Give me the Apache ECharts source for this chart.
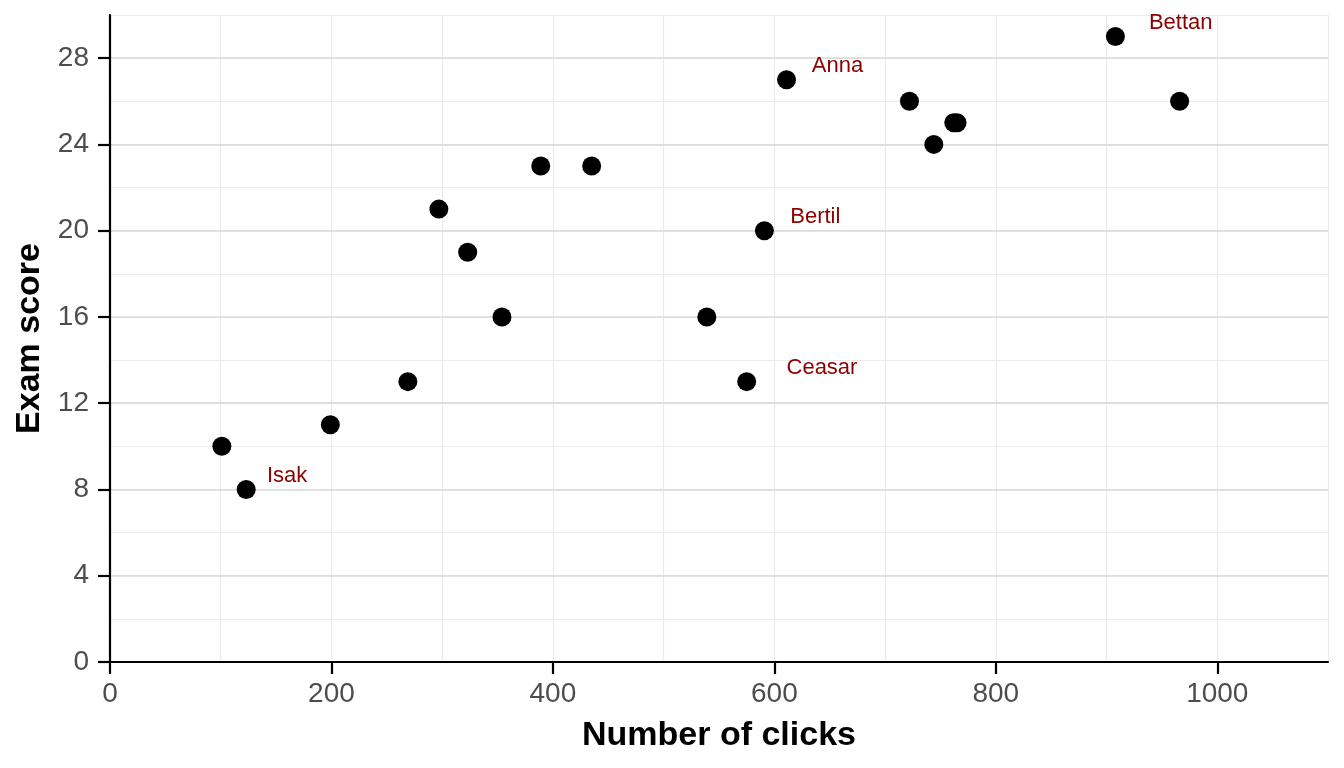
<!DOCTYPE html>
<html>
<head>
<meta charset="utf-8">
<script src="https://cdn.jsdelivr.net/npm/echarts@6/dist/echarts.min.js"></script>
<style>
html,body{margin:0;padding:0;background:#fff;}
#chart{width:1344px;height:768px;}
</style>
</head>
<body>
<div id="chart"></div>
<script>
// Data
const clicks = [101, 123, 199, 269, 297, 323, 354, 389, 435, 539, 575, 591, 611, 722, 744, 762, 765, 908, 966];
const scores = [10, 8, 11, 13, 21, 19, 16, 23, 23, 16, 13, 20, 27, 26, 24, 25, 25, 29, 26];

// Name labels (text positions in data units)
const labelNames = ['Isak', 'Ceasar', 'Bertil', 'Anna', 'Bettan'];
const labelX = [160, 643, 637, 657, 967];
const labelY = [8.63, 13.63, 20.63, 27.64, 29.64];

// Tick labels
const xTicks = [0, 200, 400, 600, 800, 1000];
const yTicks = [0, 4, 8, 12, 16, 20, 24, 28];

const FONT = "'Liberation Sans', Arial, sans-serif";

const chart = echarts.init(document.getElementById('chart'), null, {renderer: 'canvas'});

const points = clicks.map((c, i) => [c, scores[i]]);
const labelPts = labelNames.map((n, i) => ({name: n, value: [labelX[i], labelY[i]]}));

const option = {
  backgroundColor: '#ffffff',
  animation: false,
  grid: {left: 110, right: 16, top: 15, bottom: 106, containLabel: false},
  xAxis: [
    {
      type: 'value', min: 0, max: 1100, interval: 100, z: 2,
      name: 'Number of clicks', nameLocation: 'middle', nameGap: 57,
      nameTextStyle: {fontFamily: FONT, fontSize: 34, fontWeight: 'bold', color: '#000'},
      axisLine: {show: true, onZero: false, lineStyle: {color: '#000', width: 2.2}},
      axisTick: {show: true, length: 12, lineStyle: {color: '#000', width: 2.2}, customValues: xTicks},
      axisLabel: {show: true, margin: 18, fontFamily: FONT, fontSize: 28, color: '#4d4d4d',
                  customValues: xTicks, formatter: v => String(v)},
      splitLine: {show: false}
    },
    {
      type: 'value', min: 0, max: 1100, interval: 100, z: 0,
      axisLine: {show: false}, axisTick: {show: false}, axisLabel: {show: false},
      splitLine: {show: true, lineStyle: {color: '#ebebeb', width: 1.2}}
    }
  ],
  yAxis: [
    {
      type: 'value', min: 0, max: 30, interval: 2, z: 2,
      name: 'Exam score', nameLocation: 'middle', nameGap: 60, nameRotate: 90,
      nameTextStyle: {fontFamily: FONT, fontSize: 34, fontWeight: 'bold', color: '#000'},
      axisLine: {show: true, onZero: false, lineStyle: {color: '#000', width: 2.2}},
      axisTick: {show: true, length: 12, lineStyle: {color: '#000', width: 2.2}, customValues: yTicks},
      axisLabel: {show: true, margin: 21, fontFamily: FONT, fontSize: 28, color: '#4d4d4d',
                  padding: [12, 0, 0, 0],
                  customValues: yTicks, formatter: v => String(v)},
      splitLine: {show: true, lineStyle: {color: '#d9d9d9', width: 1.6}}
    },
    {
      type: 'value', min: 0, max: 30, interval: 2, z: 0,
      axisLine: {show: false}, axisTick: {show: false}, axisLabel: {show: false},
      splitLine: {show: true, lineStyle: {color: '#ebebeb', width: 1.2}}
    }
  ],
  series: [
    {
      type: 'scatter', xAxisIndex: 0, yAxisIndex: 0, z: 5,
      symbol: 'circle', symbolSize: 19,
      itemStyle: {color: '#000', opacity: 1},
      data: points
    },
    {
      type: 'scatter', xAxisIndex: 0, yAxisIndex: 0, z: 6,
      symbol: 'circle', symbolSize: 2,
      itemStyle: {color: 'rgba(0,0,0,0)', opacity: 1},
      label: {show: true, position: 'inside', formatter: '{b}', color: '#8b0000',
              fontFamily: FONT, fontSize: 22, opacity: 1},
      emphasis: {disabled: true},
      data: labelPts
    }
  ]
};
chart.setOption(option);
</script>
</body>
</html>
